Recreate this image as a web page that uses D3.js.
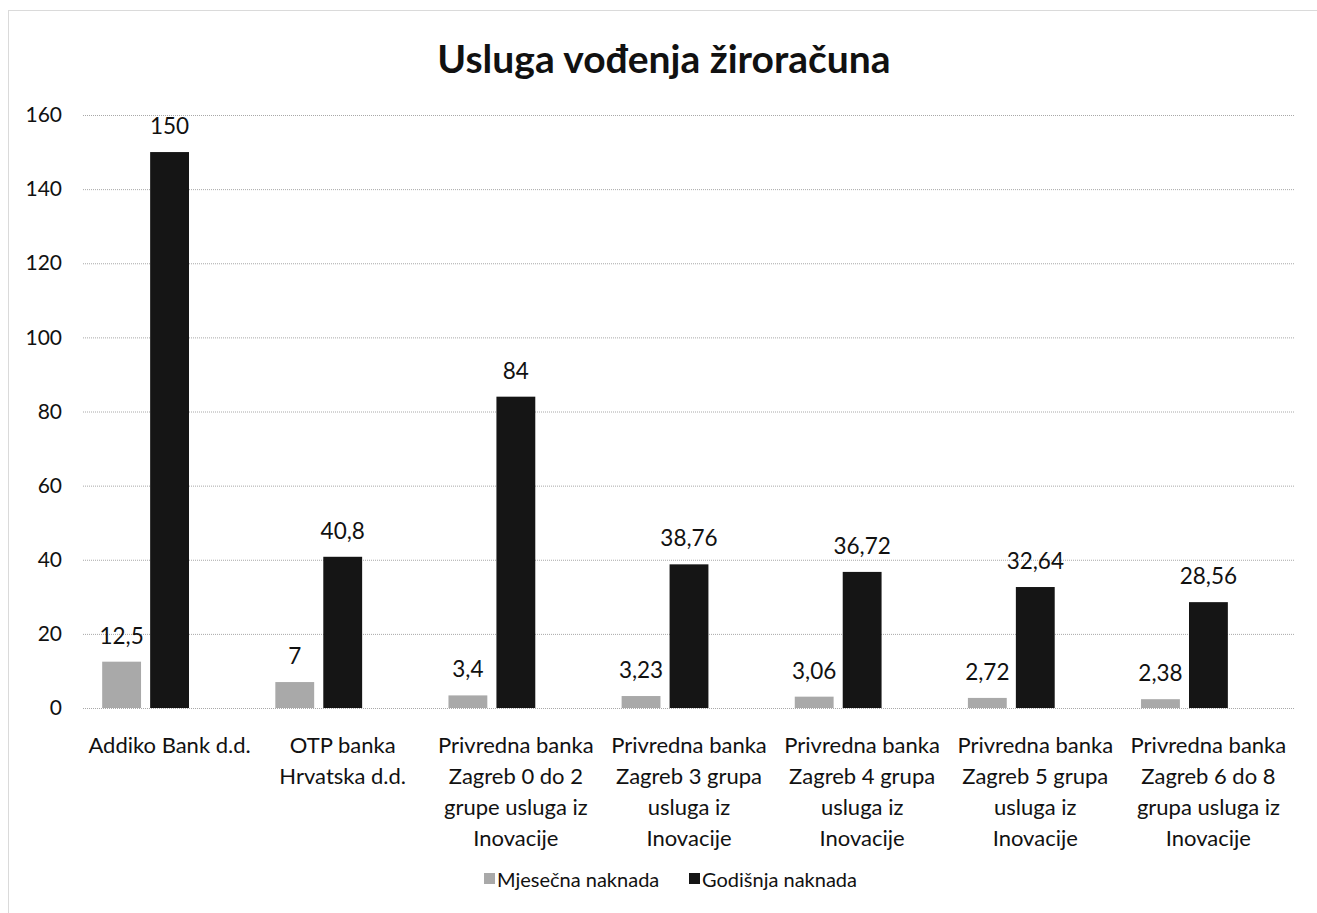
<!DOCTYPE html>
<html>
<head>
<meta charset="utf-8">
<script src="https://cdn.jsdelivr.net/npm/d3@7"></script>
<style>
  body { margin: 0; background: #fff; }
  text { font-family: Lato, "Open Sans", sans-serif; fill: #111; }
</style>
</head>
<body>
<svg id="graf"></svg>
<script>
// podaci iz grafa
const naslov = "Usluga vođenja žiroračuna";
const banke = [
  ["Addiko Bank d.d."],
  ["OTP banka", "Hrvatska d.d."],
  ["Privredna banka", "Zagreb 0 do 2", "grupe usluga iz", "Inovacije"],
  ["Privredna banka", "Zagreb 3 grupa", "usluga iz", "Inovacije"],
  ["Privredna banka", "Zagreb 4 grupa", "usluga iz", "Inovacije"],
  ["Privredna banka", "Zagreb 5 grupa", "usluga iz", "Inovacije"],
  ["Privredna banka", "Zagreb 6 do 8", "grupa usluga iz", "Inovacije"]
];
const serije = ["Mjesečna naknada", "Godišnja naknada"];
const mjesecna = [12.5, 7, 3.4, 3.23, 3.06, 2.72, 2.38];
const godisnja = [150, 40.8, 84, 38.76, 36.72, 32.64, 28.56];
const yTicks = [0, 20, 40, 60, 80, 100, 120, 140, 160];
const boje = ["#a9a9a9", "#151515"];

const width = 1317, height = 913;
const svg = d3.select("#graf")
  .attr("width", width)
  .attr("height", height)
  .attr("viewBox", "0 0 " + width + " " + height);

// okvir grafa (točkasti)
svg.append("rect")
  .attr("x", 8.5).attr("y", 10.5)
  .attr("width", width).attr("height", height)
  .attr("fill", "none")
  .attr("stroke", "#b5b5b5")
  .attr("stroke-dasharray", "1,1");

const lijevo = 83, desno = 1295, vrh = 115, dno = 708;

let x = d3.scaleBand()
  .domain(d3.range(banke.length))
  .range([lijevo, desno])
  .padding(0);

// tri mjesta u grupi, treće je prazno (kao u Excelu)
let xSerija = d3.scaleBand()
  .domain([0, 1, 2])
  .range([0, x.bandwidth()])
  .paddingInner(0.19)
  .paddingOuter(0.4);

let y = d3.scaleLinear()
  .domain([0, 160])
  .range([dno, vrh]);

// naslov
svg.append("text")
  .attr("x", 664).attr("y", 73)
  .attr("text-anchor", "middle")
  .style("font-size", "39px")
  .style("font-weight", "bold")
  .text(naslov);

// mreža i oznake osi y
let osY = svg.append("g")
  .attr("transform", "translate(" + lijevo + ",0)")
  .call(d3.axisLeft(y).tickValues(yTicks).tickSize(-(desno - lijevo)).tickPadding(21));
osY.select(".domain").remove();
osY.selectAll(".tick line")
  .attr("stroke", "#a8a8a8")
  .attr("stroke-dasharray", "1,1");
osY.selectAll(".tick text")
  .style("font-size", "21px")
  .style("font-family", "Lato, sans-serif")
  .attr("fill", "#111");

// stupci
const nizovi = [mjesecna, godisnja];
const fmt = (v) => String(v).replace(".", ",");

nizovi.forEach(function(vrijednosti, s){
  let g = svg.append("g");
  g.selectAll("rect")
    .data(vrijednosti)
    .enter().append("rect")
    .attr("x", (d, i) => x(i) + xSerija(s))
    .attr("y", (d) => y(d))
    .attr("width", xSerija.bandwidth())
    .attr("height", (d) => y(0) - y(d))
    .attr("fill", boje[s]);
  g.selectAll("text")
    .data(vrijednosti)
    .enter().append("text")
    .attr("x", (d, i) => x(i) + xSerija(s) + xSerija.bandwidth() / 2)
    .attr("y", (d) => y(d) - 18)
    .attr("text-anchor", "middle")
    .style("font-size", "22.5px")
    .text((d) => fmt(d));
});

// nazivi kategorija
let kat = svg.append("g");
banke.forEach(function(redovi, i){
  let t = kat.append("text")
    .attr("text-anchor", "middle")
    .style("font-size", "22px");
  redovi.forEach(function(r, j){
    t.append("tspan")
      .attr("x", x(i) + x.bandwidth() / 2)
      .attr("y", 753 + j * 31)
      .text(r);
  });
});

// legenda
let legenda = svg.append("g");
const legendaX = [484, 689];
serije.forEach(function(ime, s){
  legenda.append("rect")
    .attr("x", legendaX[s]).attr("y", 873)
    .attr("width", 11).attr("height", 11)
    .attr("fill", boje[s]);
  legenda.append("text")
    .attr("x", legendaX[s] + 13).attr("y", 887)
    .style("font-size", "20px")
    .text(ime);
});
</script>
</body>
</html>
